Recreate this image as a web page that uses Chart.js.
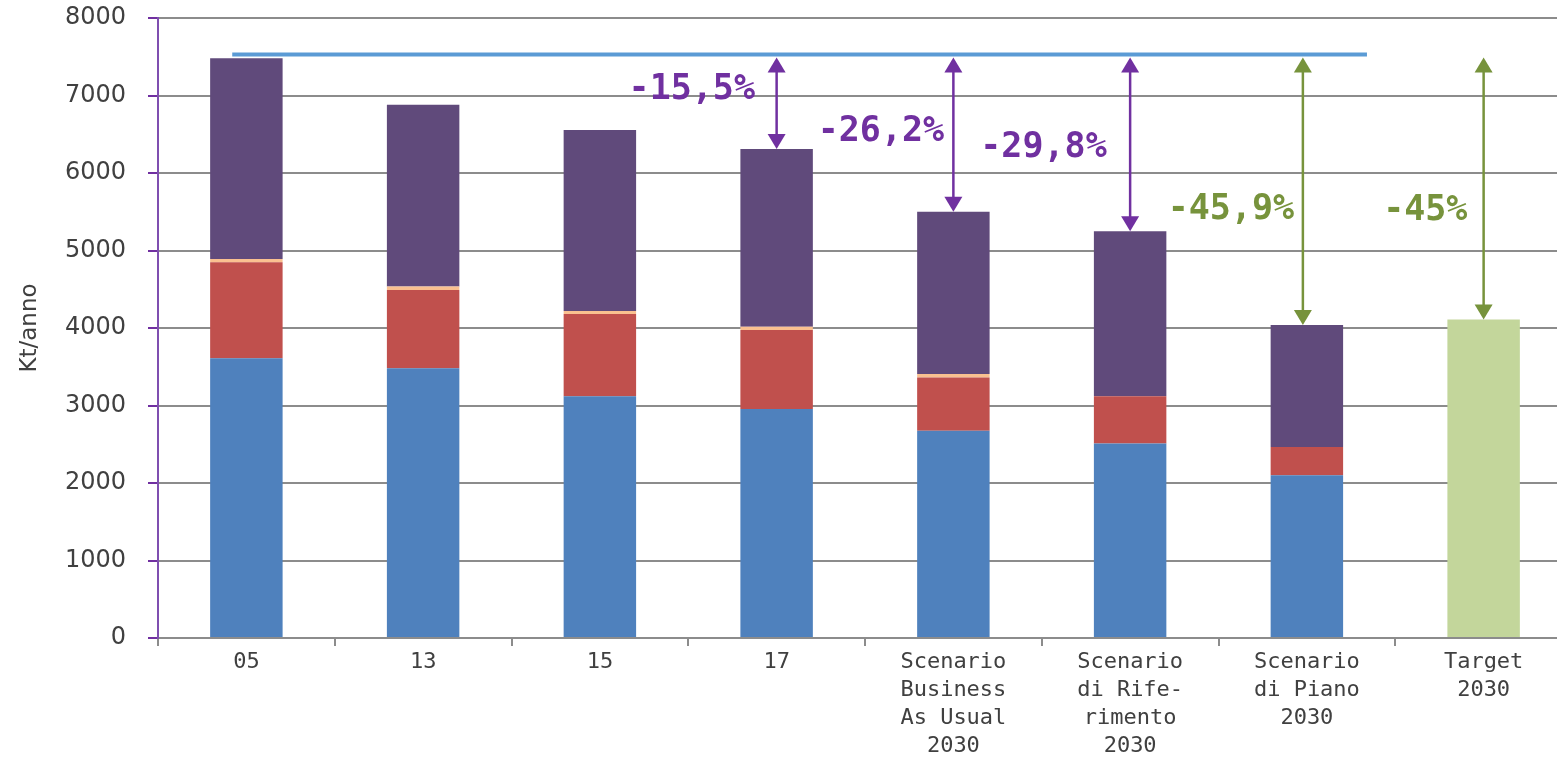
<!DOCTYPE html>
<html>
<head>
<meta charset="utf-8">
<title>Kt/anno</title>
<script src="https://cdn.jsdelivr.net/npm/chart.js@4.4.0/dist/chart.umd.min.js"></script>
<style>
	body { margin: 0; background: #fff; overflow: hidden; }
	#box { width: 1572px; height: 762px; }
</style>
</head>
<body>
<div id="box"><canvas id="myChart"></canvas></div>
<script>
// categories (multi-line labels)
const categorie = [
	['05'], ['13'], ['15'], ['17'],
	['Scenario', 'Business', 'As Usual', '2030'],
	['Scenario', 'di Rife-', 'rimento', '2030'],
	['Scenario', 'di Piano', '2030'],
	['Target', '2030']
];

// stacked series, Kt/anno
const serieBlu    = [3610, 3480, 3120, 2955, 2675, 2510, 2100, null];
const serieRossa  = [1240, 1010, 1060, 1020,  685,  610,  365, null];
const serieArancio= [  40,   45,   40,   40,   45,    0,    0, null];
const serieViola  = [2590, 2345, 2335, 2295, 2095, 2130, 1575, null];
const serieTarget = [null, null, null, null, null, null, null, 4110];

// reference level (2005) and its span in category units
const livello2005 = 7530;
const lineaX = [-0.08, 6.34];

// reduction labels
const riduzioni = ['-15,5%', '-26,2%', '-29,8%', '-45,9%', '-45%'];
const rifCategoria = [3, 4, 5, 6, 7];     // which bar each arrow points at
const etichettaX = [2.52, 3.59, 4.51, 5.57, 6.67];
const etichettaY = [7070, 6530, 6320, 5520, 5510];
const coloreFreccia = ['#7030A0', '#7030A0', '#7030A0', '#77933C', '#77933C'];

const tickY = [0, 1000, 2000, 3000, 4000, 5000, 6000, 7000, 8000];

function totale(i){
	return [serieBlu, serieRossa, serieArancio, serieViola, serieTarget]
		.reduce((s, a) => s + (a[i] || 0), 0);
}

// reference line, arrows, percent labels
const frecce = {
	id: 'frecce',
	afterDatasetsDraw(chart){
		const ctx = chart.ctx;
		const xs = chart.scales.x, ys = chart.scales.y;
		const yl = ys.getPixelForValue(livello2005);
		ctx.save();
		ctx.strokeStyle = '#5B9BD5';
		ctx.lineWidth = 4;
		ctx.beginPath();
		ctx.moveTo(xs.getPixelForValue(lineaX[0]), yl);
		ctx.lineTo(xs.getPixelForValue(lineaX[1]), yl);
		ctx.stroke();

		for (let k = 0; k < riduzioni.length; k++){
			const c = coloreFreccia[k];
			const x = xs.getPixelForValue(rifCategoria[k]) - (k == 3 ? 4 : 0);
			const y1 = yl + 3;
			const y2 = ys.getPixelForValue(totale(rifCategoria[k]));
			ctx.strokeStyle = c;
			ctx.fillStyle = c;
			ctx.lineWidth = 2.5;
			ctx.beginPath();
			ctx.moveTo(x, y1 + 10);
			ctx.lineTo(x, y2 - 10);
			ctx.stroke();
			ctx.beginPath();
			ctx.moveTo(x, y1); ctx.lineTo(x - 9, y1 + 15); ctx.lineTo(x + 9, y1 + 15);
			ctx.closePath(); ctx.fill();
			ctx.beginPath();
			ctx.moveTo(x, y2); ctx.lineTo(x - 9, y2 - 15); ctx.lineTo(x + 9, y2 - 15);
			ctx.closePath(); ctx.fill();

			ctx.font = 'bold 35px "DejaVu Sans Mono"';
			ctx.textAlign = 'center';
			ctx.textBaseline = 'middle';
			ctx.fillText(riduzioni[k], xs.getPixelForValue(etichettaX[k]), ys.getPixelForValue(etichettaY[k]));
		}
		ctx.restore();
	}
};

const ctx = document.getElementById('myChart');
new Chart(ctx, {
	type: 'bar',
	data: {
		labels: categorie,
		datasets: [
			{ label: 'blu', data: serieBlu, backgroundColor: '#4F81BD' },
			{ label: 'rosso', data: serieRossa, backgroundColor: '#C0504D' },
			{ label: 'arancio', data: serieArancio, backgroundColor: '#FAC090' },
			{ label: 'viola', data: serieViola, backgroundColor: '#604A7B' },
			{ label: 'target', data: serieTarget, backgroundColor: '#C3D69B' }
		]
	},
	options: {
		responsive: true,
		maintainAspectRatio: false,
		animation: false,
		layout: { padding: { top: 18, right: 0, left: 0, bottom: 0 } },
		plugins: { legend: { display: false }, tooltip: { enabled: false } },
		datasets: { bar: { barPercentage: 0.41, categoryPercentage: 1, grouped: false } },
		scales: {
			x: {
				stacked: true,
				grid: { drawOnChartArea: false, drawTicks: true, tickLength: 8, color: '#8C8C8C', lineWidth: 2 },
				border: { color: '#8C8C8C', width: 2 },
				ticks: {
					color: '#404040', padding: 2, maxRotation: 0, autoSkip: false,
					font: { family: '"DejaVu Sans Mono"', size: 22, lineHeight: 1.27 }
				},
				afterFit(s){ s.height = 124; }
			},
			y: {
				stacked: true,
				min: 0, max: 8000,
				afterBuildTicks(s){ s.ticks = tickY.map(v => ({ value: v })); },
				grid: { color: '#8C8C8C', lineWidth: 2, tickColor: '#7030A0', tickLength: 10 },
				border: { color: '#7F4FB0', width: 2 },
				ticks: {
					color: '#404040', padding: 22,
					font: { family: '"DejaVu Sans"', size: 24 },
					callback: v => String(v)
				},
				title: {
					display: true, text: 'Kt/anno', color: '#404040',
					font: { family: '"DejaVu Sans"', size: 23 },
					padding: { top: 16, bottom: 0 }
				},
				afterFit(s){
					s.width = 158;
					s.paddingTop = 0;
					s.paddingBottom = 0;
				}
			}
		}
	},
	plugins: [frecce]
});
</script>
</body>
</html>
